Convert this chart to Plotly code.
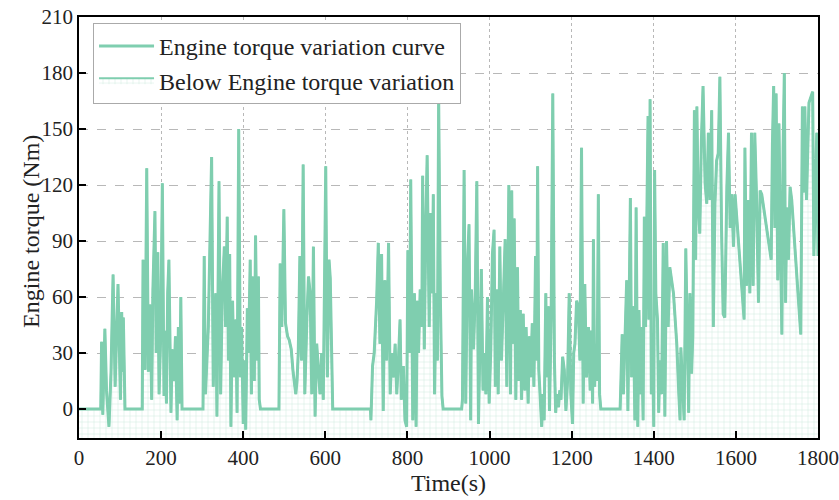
import plotly.graph_objects as go

# ---- data (time in s, torque in Nm) ----
time_s = [
    0, 53, 55, 58, 63, 67, 73, 78, 83, 88, 95, 101, 104, 106, 108, 112,
    154, 156, 161, 165, 169, 173, 177, 180, 185, 188, 192, 195, 199, 203, 207, 209, 213, 216, 219, 224, 227, 231, 235, 239, 242, 245, 248, 251,
    302, 305, 308, 315, 323, 327, 333, 336, 341, 345, 349, 354, 357, 361, 364, 367, 370, 374, 378, 382, 385, 389, 393, 396, 400, 403, 406, 410, 413, 417, 420, 423, 427, 430, 434, 437, 439, 442,
    487, 490, 494, 499, 503, 508, 512, 517, 521, 525, 528, 531, 534, 538, 542, 546, 550, 555, 559, 563, 567, 571, 575, 579, 583, 587, 591, 595, 601, 605, 609, 612, 618,
    710, 711, 715, 719, 725, 729, 733, 737, 741, 745, 749, 754, 758, 762, 766, 770, 774, 778, 782, 785, 790, 794, 798, 801, 805, 808, 813, 817, 821, 824, 827, 831, 835, 837, 841, 845, 848, 853, 857, 860, 863, 866, 870, 873, 876, 880, 884, 887,
    932, 934, 938, 942, 946, 950, 954, 956, 961, 965, 969, 973, 976, 980, 984, 987, 991, 995, 999, 1003, 1007, 1011, 1014, 1018, 1021, 1025, 1029, 1034, 1038, 1042, 1044, 1047, 1051, 1054, 1057, 1060, 1064, 1068, 1071, 1075, 1078, 1082, 1086, 1089, 1094, 1097, 1100, 1104, 1108, 1112, 1115, 1117, 1120, 1124, 1127, 1130, 1133, 1137, 1140, 1143, 1146, 1150, 1154, 1158, 1161, 1164, 1168, 1171, 1174, 1178, 1182, 1186, 1190, 1194, 1198, 1202, 1205, 1208, 1212, 1216, 1220, 1224, 1228, 1232, 1236, 1241, 1245, 1248, 1251, 1253, 1256, 1259, 1262, 1265, 1268, 1271,
    1318, 1319, 1323, 1326, 1330, 1334, 1337, 1340, 1343, 1346, 1350, 1354, 1357, 1361, 1364, 1367, 1370, 1374, 1377, 1380, 1383, 1386, 1388, 1391, 1394, 1397, 1400, 1402, 1405, 1409, 1412, 1415, 1419, 1423, 1427, 1431, 1435, 1439, 1448, 1456, 1461, 1464, 1466, 1470, 1474, 1478, 1482, 1485, 1488, 1492, 1495, 1499,
    1502, 1505, 1508, 1512, 1516, 1520, 1525, 1529, 1533, 1537, 1541, 1545, 1549, 1553, 1557, 1561, 1565, 1569, 1573, 1578, 1582, 1586, 1590, 1594, 1598, 1620, 1622, 1626, 1630, 1634, 1638, 1642, 1646, 1650, 1655, 1659, 1663, 1686, 1689, 1692, 1695, 1698, 1702, 1705, 1708, 1712, 1715, 1718, 1721, 1724, 1728, 1732, 1736, 1758, 1762, 1765, 1768, 1772, 1778, 1783, 1787, 1790, 1793, 1797, 1800,
]
torque_nm = [
    0, 0, 36, -3, 43, 10, -9.5, 20, 72, 12, 67, 5, 52, 20, 49, 0,
    0, 80, 21, 129, 20, 56, 5, 64, 106, 30, 84, 8, 39, 121, 7, 42, 3, 62, 80, -2, 32, 15, 39, -6, 44, 3, 60, 0,
    0, 82, 8, 44, 135, 12, 62, -4, 122, 8, 62, 87, 44, 103, 26, 83, -9.5, 58, 17, 48, -2, 150, 17, 44, -8, 26, -11, 54, 30, 80, 8, 71, 15, 93, 26, 71, 5, 0,
    0, 78, 44, 107, 46, 39, 37, 32, 21, 12, 8, 15, 30, 82, 26, 131, 8, 48, 71, 62, 8, 87, -4, 35, 21, 8, 30, 5, 130, 17, 80, 70, 0,
    0, -6, 23, 30, 58, 89, 35, 83, -1, 69, 26, 89, 8, 30, 17, 35, 8, 26, 48, 5, 23, -6, -9.5, 85, 30, 123, -6, 62, -9.5, 58, 30, 64, 44, 125, 32, 101, 136, 44, 105, 62, 115, 8, 62, 26, 167, 62, 7, 0,
    0, 5, 128, 3, 76, 99, -6, 64, 32, 60, 122, -8, 33, 75, 10, 30, 8, 60, 3, 32, 83, 96, 12, 64, 8, 87, 26, 62, 91, 12, 62, 120, 8, 117, 35, 102, 5, 76, 15, 53, 5, 51, 10, 44, 3, 39, 17, 46, 12, 82, 26, 130, 21, 5, -9.5, 8, -6, 62, 17, 55, -1, 48, 169, 26, -2, 8, 1, 10, 5, 28, 21, -1, 15, 62, 8, -8, 30, 35, 58, 55, 26, 140, 3, 67, 17, 44, 10, 42, 3, 91, 12, 35, 15, 115, 8, 0,
    0, 7, 40, 8, 33, 69, -1, 62, 113, 17, 55, -6, 108, -9.5, 53, 8, 44, -6, 103, 44, 108, 157, 48, 166, 8, 35, -9.5, 128, 62, 48, -2, 26, 8, 89, -4, 90, 44, 76, 62, 35, 8, -6, 33, 15, -6, 86, 26, -2, 62, 19, 39, 160,
    80, 162, 112, 94, 144, 173, 121, 110, 148, 112, 160, 44, 110, 133, 137, 178, 97, 51, 49, 119, 148, 97, 115, 87, 115, 48, 140, 66, 112, 62, 148, 66, 148, 116, 57, 117, 115, 80, 142, 173, 97, 169, 69, 153, 97, 40, 140, 180, 57, 108, 80, 119, 112, 40, 162, 116, 162, 112, 164, 167, 170, 82, 105, 148, 82,
]

x_ticks = [0, 200, 400, 600, 800, 1000, 1200, 1400, 1600, 1800]
y_ticks = [0, 30, 60, 90, 120, 150, 180, 210]
X_RANGE = [0, 1800]
Y_RANGE = [-15.5, 210]

LINE_COLOR = "#7fceaf"
HATCH_COLOR = "#a9dcc7"
FONT = "Liberation Serif, Times New Roman, serif"

fig = go.Figure()

# invisible floor so the hatched area reaches the bottom of the plot
fig.add_trace(go.Scatter(
    x=time_s, y=[Y_RANGE[0]] * len(time_s), mode="lines",
    line=dict(width=0, color="rgba(0,0,0,0)"), showlegend=False, hoverinfo="skip",
))
fig.add_trace(go.Scatter(
    x=time_s, y=torque_nm, mode="lines", fill="tonexty",
    name="Below Engine torque variation",
    line=dict(width=2, color=LINE_COLOR),
    fillcolor="white",
    fillpattern=dict(shape="+", size=6, solidity=0.18, fgcolor=HATCH_COLOR,
                     bgcolor="white"),
    legendrank=2,
))
fig.add_trace(go.Scatter(
    x=time_s, y=torque_nm, mode="lines",
    name="Engine torque variation curve",
    line=dict(width=3, color=LINE_COLOR),
    legendrank=1,
))

axis_common = dict(
    showline=True, linecolor="black", linewidth=1.5, mirror=True,
    ticks="inside", ticklen=7, tickwidth=1.5, tickcolor="black",
    showgrid=True, gridcolor="#b8b8b8", gridwidth=1, zeroline=False,
    automargin=False,
    tickfont=dict(family=FONT, size=21, color="#222"),
)

fig.update_xaxes(
    range=X_RANGE, tickvals=x_ticks, griddash="dot",
    title=dict(text="Time(s)", font=dict(family=FONT, size=24, color="#222"), standoff=4),
    **axis_common,
)
fig.update_yaxes(
    range=Y_RANGE, tickvals=y_ticks, griddash="dash",
    **axis_common,
)

fig.add_annotation(
    text="Engine torque (Nm)", textangle=-90, showarrow=False,
    xref="paper", yref="paper", x=-0.066, y=0.49,
    xanchor="center", yanchor="middle",
    font=dict(family=FONT, size=24, color="#222"),
)

fig.update_layout(
    width=839, height=500,
    margin=dict(l=79, r=21, t=17, b=62, autoexpand=False),
    plot_bgcolor="white", paper_bgcolor="white",
    font=dict(family=FONT, size=21, color="#222"),
    legend=dict(
        x=0.019, y=0.986, xanchor="left", yanchor="top",
        bgcolor="white", bordercolor="#aaa", borderwidth=1,
        font=dict(family=FONT, size=24, color="#222"),
        itemwidth=55, tracegroupgap=0, traceorder="normal",
    ),
    showlegend=True,
)

fig.write_html("out.html")
